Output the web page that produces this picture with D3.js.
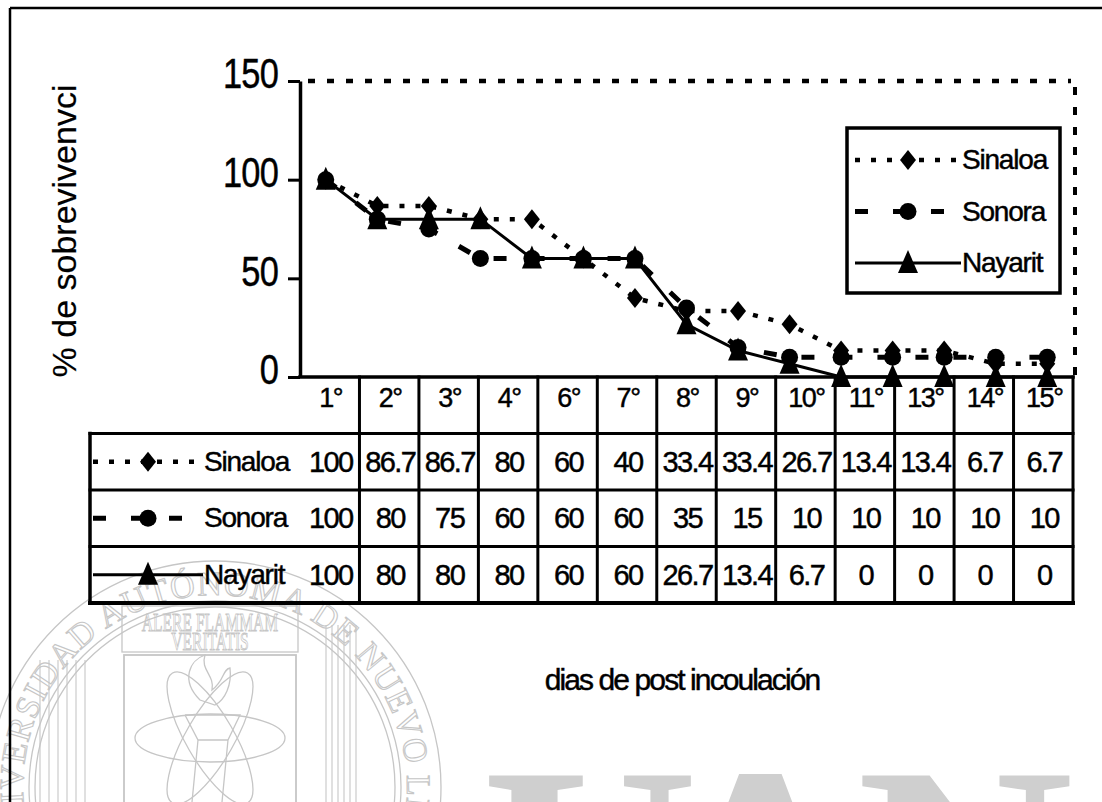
<!DOCTYPE html>
<html>
<head>
<meta charset="utf-8">
<script src="https://cdn.jsdelivr.net/npm/d3@7"></script>
<style>
  html, body { margin: 0; padding: 0; background: #fff; }
  svg { display: block; }
  text { font-family: "Liberation Sans", Arial, sans-serif; }
  .ink text, text.ink { fill: #000; stroke: #000; stroke-width: 0.45px; }
</style>
</head>
<body>
<svg id="chart" width="1102" height="802"></svg>
<script>
// ---- data -------------------------------------------------------------
// one plotted point per day after inoculation
const days = [1, 2, 3, 4, 5, 6, 7, 8, 9, 10, 11, 12, 13, 14, 15];
const sinaloa = [100, 86.7, 86.7, 80, 80, 60, 40, 33.4, 33.4, 26.7, 13.4, 13.4, 13.4, 6.7, 6.7];
const sonora  = [100, 80, 75, 60, 60, 60, 60, 35, 15, 10, 10, 10, 10, 10, 10];
const nayarit = [100, 80, 80, 80, 60, 60, 60, 26.7, 13.4, 6.7, 0, 0, 0, 0, 0];
// days listed in the data table under the plot
const tableDays = [1, 2, 3, 4, 6, 7, 8, 9, 10, 11, 13, 14, 15];
const seriesNames = ["Sinaloa", "Sonora", "Nayarit"];
const yTicks = [0, 50, 100, 150];
const yTitle = "% de sobrevivenvci";
const xTitle = "dias de post incoulación";

// ---- layout -----------------------------------------------------------
const svg = d3.select("#chart");
const plotL = 300, plotR = 1073, plotT = 81, plotB = 377;
const tableB = 603, labelL = 90;
const ink = "#000";
const wm = "#c6c6c6";

const series = [
  { name: seriesNames[0], values: sinaloa, dash: "5,11", width: 4.5, marker: "diamond" },
  { name: seriesNames[1], values: sonora,  dash: "13,25", width: 5,  marker: "circle" },
  { name: seriesNames[2], values: nayarit, dash: null,   width: 3,  marker: "triangle" }
];

const x = d3.scaleBand().domain(days).range([plotL, plotR]);
const y = d3.scaleLinear().domain([0, 150]).range([plotB, plotT]);
const cx = d => x(d) + x.bandwidth() / 2;

const markerPath = {
  diamond: "M0,-10 L8,0 L0,10 L-8,0 Z",
  circle: d3.symbol(d3.symbolCircle, Math.PI * 8.5 * 8.5)(),
  triangle: "M0,-13 L10,10 L-10,10 Z"
};

// ---- watermark seal and letters (light grey, behind everything) -------
const wmG = svg.append("g").attr("class", "watermark");
const sc = { x: 215, y: 787 };
[226, 186, 180].forEach(r => {
  wmG.append("circle").attr("cx", sc.x).attr("cy", sc.y).attr("r", r)
    .attr("fill", "none").attr("stroke", wm).attr("stroke-width", 1.3);
});
const ringR = 192;
const ang = a => [sc.x + ringR * Math.sin(a * Math.PI / 180), sc.y - ringR * Math.cos(a * Math.PI / 180)];
const [sx0, sy0] = ang(-110), [sx1, sy1] = ang(178);
wmG.append("path").attr("id", "ringPath")
  .attr("d", `M${sx0},${sy0} A${ringR},${ringR} 0 1 1 ${sx1},${sy1}`)
  .attr("fill", "none");
wmG.append("text")
  .style("font-family", "'Liberation Serif', serif")
  .attr("font-size", 34)
  .style("fill", "none").style("stroke", wm).style("stroke-width", 1.1)
  .append("textPath").attr("href", "#ringPath")
  .attr("textLength", 752).attr("lengthAdjust", "spacing")
  .text("UNIVERSIDAD AUTÓNOMA DE NUEVO LEÓN");
// fluted columns either side of the shield
d3.range(0, 6).forEach(i => {
  wmG.append("line").attr("x1", 40 + i * 9).attr("x2", 40 + i * 9).attr("y1", 660).attr("y2", 802)
    .attr("stroke", wm).attr("stroke-width", 1.1);
  wmG.append("line").attr("x1", 326 + i * 6).attr("x2", 326 + i * 6).attr("y1", 625).attr("y2", 802)
    .attr("stroke", wm).attr("stroke-width", 1.1);
});
// banner and shield
wmG.append("rect").attr("x", 122).attr("y", 606).attr("width", 176).attr("height", 46)
  .attr("fill", "none").attr("stroke", wm).attr("stroke-width", 1.3);
wmG.append("rect").attr("x", 124).attr("y", 655).attr("width", 172).attr("height", 160)
  .attr("fill", "none").attr("stroke", wm).attr("stroke-width", 1.8);
[["ALERE FLAMMAM", 631], ["VERITATIS", 650]].forEach(([t, yy]) => {
  wmG.append("text").attr("transform", `translate(210,${yy}) scale(0.6,1)`)
    .attr("text-anchor", "middle")
    .style("font-family", "'Liberation Serif', serif").attr("font-size", 26)
    .style("fill", "none").style("stroke", wm).style("stroke-width", 1).text(t);
});
// atom orbits and torch
[0, 60, -60].forEach(r => {
  wmG.append("ellipse").attr("cx", 210).attr("cy", 738).attr("rx", 75).attr("ry", 24)
    .attr("transform", `rotate(${r},210,738)`)
    .attr("fill", "none").attr("stroke", wm).attr("stroke-width", 1.3);
});
wmG.append("path")
  .attr("d", "M200,700 C180,680 190,660 205,655 C200,670 215,675 212,690 C225,680 222,670 230,668 C232,685 225,700 215,705 Z")
  .attr("fill", "none").attr("stroke", wm).attr("stroke-width", 1.3);
wmG.append("path")
  .attr("d", "M185,715 L240,715 L228,740 L222,802 M198,740 L192,802 M185,715 L198,740 L228,740")
  .attr("fill", "none").attr("stroke", wm).attr("stroke-width", 1.3);
// large initials along the bottom edge
[["U", 590], ["A", 760], ["N", 965]].forEach(([t, xx]) => {
  wmG.append("text").attr("x", xx).attr("y", 972).attr("text-anchor", "middle")
    .style("font-family", "'Liberation Serif', serif").attr("font-weight", "bold")
    .attr("font-size", 300).style("fill", "#cfcfcf").text(t);
});

// ---- chart layer ------------------------------------------------------
const chart = svg.append("g").attr("class", "ink");

// outer frame
chart.append("line").attr("x1", 10).attr("x2", 1102).attr("y1", 8).attr("y2", 8)
  .attr("stroke", ink).attr("stroke-width", 2.5);
chart.append("line").attr("x1", 10).attr("x2", 10).attr("y1", 8).attr("y2", 802)
  .attr("stroke", ink).attr("stroke-width", 2.5);

// plot area borders (dotted top and right)
chart.append("line").attr("x1", plotL + 8).attr("x2", plotR - 2).attr("y1", plotT).attr("y2", plotT)
  .attr("stroke", ink).attr("stroke-width", 4.5).attr("stroke-dasharray", "7,12");
chart.append("line").attr("x1", plotR + 2).attr("x2", plotR + 2).attr("y1", plotT + 6).attr("y2", plotB)
  .attr("stroke", ink).attr("stroke-width", 4).attr("stroke-dasharray", "8,12");

// y axis
const tickLen = 12, tickPad = 10, tickScale = 0.8;
const yAxis = chart.append("g").attr("transform", `translate(${plotL},0)`)
  .call(d3.axisLeft(y).tickValues(yTicks).tickSize(tickLen).tickSizeOuter(0).tickPadding(tickPad));
yAxis.select(".domain").attr("stroke", ink).attr("stroke-width", 3.5);
yAxis.selectAll(".tick line").attr("stroke", ink).attr("stroke-width", 3);
yAxis.selectAll(".tick text")
  .attr("font-size", 43)
  .attr("x", -(tickLen + tickPad) / tickScale)
  .attr("dy", "0.16em")
  .attr("transform", `scale(${tickScale},1)`)
  .attr("letter-spacing", -1)
  .style("font-family", "'Liberation Sans', Arial, sans-serif");

// y title
chart.append("text")
  .attr("transform", "translate(76,231) rotate(-90)")
  .attr("text-anchor", "middle")
  .attr("font-size", 34)
  .style("stroke-width", 0.2)
  .text(yTitle);

// series
const line = d3.line().x(d => cx(d.day)).y(d => y(d.v));
series.forEach(s => {
  const pts = days.map((d, i) => ({ day: d, v: s.values[i] }));
  chart.append("path").datum(pts)
    .attr("d", line)
    .attr("fill", "none").attr("stroke", ink)
    .attr("stroke-width", s.width)
    .attr("stroke-dasharray", s.dash);
  chart.append("g").selectAll("path").data(pts).join("path")
    .attr("d", markerPath[s.marker])
    .attr("transform", d => `translate(${cx(d.day)},${y(d.v)})`)
    .attr("fill", ink);
});

// legend box
const leg = chart.append("g");
leg.append("rect").attr("x", 847).attr("y", 128).attr("width", 213).attr("height", 165)
  .attr("fill", "#fff").attr("stroke", ink).attr("stroke-width", 3.5);
const legY = d3.scalePoint().domain(seriesNames).range([160, 263]);

function keySymbol(g, s, x0, x1, yy) {
  g.append("line").attr("x1", x0).attr("x2", x1).attr("y1", yy).attr("y2", yy)
    .attr("stroke", ink).attr("stroke-width", s.width)
    .attr("stroke-dasharray", s.dash);
  g.append("path").attr("d", markerPath[s.marker])
    .attr("transform", `translate(${(x0 + x1) / 2},${yy})`).attr("fill", ink);
}
series.forEach(s => {
  const yy = legY(s.name);
  keySymbol(leg, s, 855, 961, yy);
  leg.append("text").attr("x", 962).attr("y", yy + 9)
    .attr("font-size", 28).attr("letter-spacing", -1.2).text(s.name);
});

// data table
const rows = d3.scaleBand().domain(["head", ...seriesNames]).range([plotB, tableB]);
const cols = d3.scaleBand().domain(tableDays).range([plotL, plotR]);
const tbl = chart.append("g");
const rule = (x1, y1, x2, y2, w) => tbl.append("line")
  .attr("x1", x1).attr("y1", y1).attr("x2", x2).attr("y2", y2)
  .attr("stroke", ink).attr("stroke-width", w).attr("stroke-linecap", "square");

rule(plotL, plotB, plotR, plotB, 3.5);
seriesNames.forEach(n => rule(labelL, rows(n), plotR, rows(n), 3));
rule(labelL, tableB, plotR, tableB, 4);
rule(labelL, rows(seriesNames[0]), labelL, tableB, 3.5);
tableDays.forEach(d => rule(cols(d) + cols.bandwidth(), plotB, cols(d) + cols.bandwidth(), tableB, 3));

// header: day labels
tbl.selectAll("text.head").data(tableDays).join("text")
  .attr("class", "head")
  .attr("x", d => cols(d) + cols.bandwidth() / 2 + 1)
  .attr("y", plotB + 30)
  .attr("text-anchor", "middle")
  .attr("font-size", 27).attr("letter-spacing", -1.5)
  .text(d => `${d}°`);

// rows: legend key + values
series.forEach(s => {
  const rc = rows(s.name) + rows.bandwidth() / 2;
  keySymbol(tbl, s, 93, 203, rc);
  tbl.append("text").attr("x", 204).attr("y", rc + 9)
    .attr("font-size", 28).attr("letter-spacing", -1.2).text(s.name);
  tbl.selectAll(null).data(tableDays).join("text")
    .attr("x", d => cols(d) + cols.bandwidth() / 2 + 1)
    .attr("y", rc + 10)
    .attr("text-anchor", "middle")
    .attr("font-size", 29).attr("letter-spacing", -1.6)
    .text(d => String(s.values[days.indexOf(d)]));
});

// x title
chart.append("text")
  .attr("x", 682).attr("y", 690)
  .attr("text-anchor", "middle")
  .attr("font-size", 30).attr("letter-spacing", -1.9)
  .text(xTitle);
</script>
</body>
</html>
